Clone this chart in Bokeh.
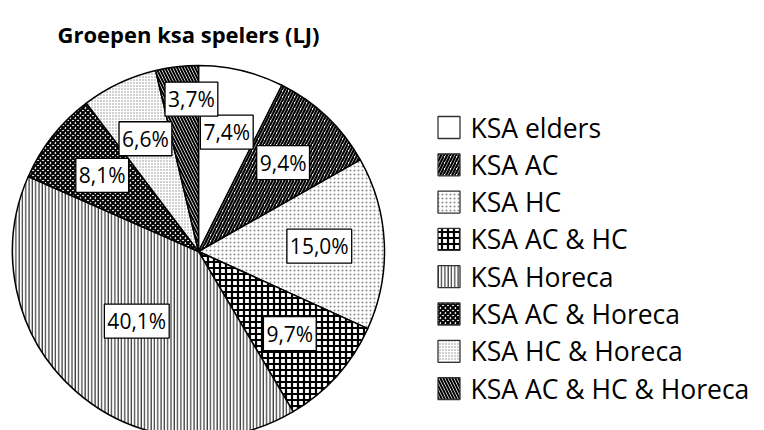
import math
from bokeh.plotting import figure
from bokeh.models import Range1d, ColumnDataSource
from bokeh.core.properties import value
from bokeh.embed import file_html
from bokeh.resources import INLINE

# ---- data ----
title = "Groepen ksa spelers (LJ)"
categories = ["KSA elders", "KSA AC", "KSA HC", "KSA AC & HC", "KSA Horeca",
              "KSA AC & Horeca", "KSA HC & Horeca", "KSA AC & HC & Horeca"]
percentages = [7.4, 9.4, 15.0, 9.7, 40.1, 8.1, 6.6, 3.7]
pct_labels = ["7,4%", "9,4%", "15,0%", "9,7%", "40,1%", "8,1%", "6,6%", "3,7%"]

# ---- styles / layout ----
hatch_patterns = [" ", "/", ".", "+", "|", "x", ".", "\\"]
hatch_colors = ["black", "black", "#8a8a8a", "black", "#222222", "black", "#8a8a8a", "black"]
hatch_scales = [6, 6, 4, 6, 3.3, 5, 3, 6]
hatch_weights = [1, 2.2, 0.9, 2.2, 1.1, 2.2, 1.1, 2.0]
label_r_factor = [0.66, 0.66, 0.65, 0.66, 0.50, 0.66, 0.67, 0.82]
label_angle_shift_deg = [0, 0, 0, 0, 0, 0, 0, 4.0]   # clockwise nudge

W, H = 760, 430
FONT = "Open Sans"


def py(page_y):
    return H - page_y


cx, cy, R = 198, py(251), 186

total = sum(percentages)
starts, ends, mids = [], [], []
acc = 0.0
for v in percentages:
    a0 = math.pi / 2 - 2 * math.pi * acc / total
    acc += v
    a1 = math.pi / 2 - 2 * math.pi * acc / total
    starts.append(a0)
    ends.append(a1)
    mids.append((a0 + a1) / 2)

src = ColumnDataSource(dict(
    cat=categories, start=starts, end=ends,
    hp=hatch_patterns, hc=hatch_colors, hs=hatch_scales, hw=hatch_weights,
))

p = figure(width=W, height=H, output_backend="svg", toolbar_location=None,
           x_range=Range1d(0, W), y_range=Range1d(0, H),
           min_border=0, x_axis_type=None, y_axis_type=None)
p.grid.visible = False
p.outline_line_color = None
p.background_fill_color = "white"

p.wedge(x=cx, y=cy, radius=R, start_angle="start", end_angle="end",
        direction="clock", source=src, fill_color="white",
        hatch_pattern="hp", hatch_color="hc", hatch_scale="hs", hatch_weight="hw",
        line_color="black", line_width=1.5)

# percentage labels
angles = [m - math.radians(s) for m, s in zip(mids, label_angle_shift_deg)]
lx = [cx + R * f * math.cos(a) for f, a in zip(label_r_factor, angles)]
ly = [cy + R * f * math.sin(a) for f, a in zip(label_r_factor, angles)]
lsrc = ColumnDataSource(dict(x=lx, y=ly, t=pct_labels))
p.text(x="x", y="y", text="t", source=lsrc, text_font=value(FONT),
       text_font_size="21px", text_align="center", text_baseline="middle",
       text_color="black", background_fill_color="white",
       border_line_color="black", border_line_width=1.3, padding=3)

# legend (manual)
leg_x0 = 448.5
leg_y_top = py(127)
step = 37.3
ly_leg = [leg_y_top - i * step for i in range(len(categories))]
lgsrc = ColumnDataSource(dict(
    x=[leg_x0] * len(categories), y=ly_leg, tx=[leg_x0 + 21.5] * len(categories),
    cat=categories, hp=hatch_patterns, hc=hatch_colors, hs=hatch_scales, hw=hatch_weights,
))
p.rect(x="x", y="y", width=22, height=22, source=lgsrc, fill_color="white",
       hatch_pattern="hp", hatch_color="hc", hatch_scale="hs", hatch_weight="hw",
       line_color="#333333", line_width=1.3)
p.text(x="tx", y="y", text="cat", source=lgsrc, text_font=value(FONT),
       text_font_size="26.5px", text_baseline="middle", text_align="left",
       text_color="black")

# title
p.text(x=[57], y=[py(33)], text=[title], text_font=value(FONT),
       text_font_size="22px", text_font_style="bold", text_baseline="alphabetic",
       text_color="black")

open("out.html", "w").write(file_html(p, INLINE))
